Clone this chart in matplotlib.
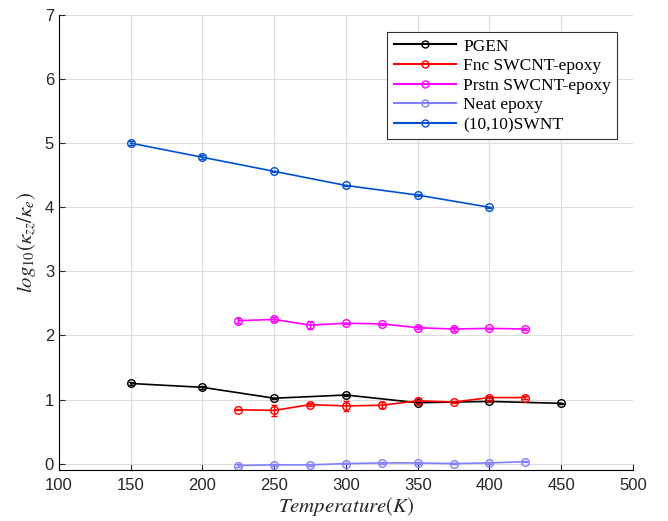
import numpy as np
import matplotlib.pyplot as plt
from matplotlib.lines import Line2D

# data
t_swnt = [150, 200, 250, 300, 350, 400]
swnt = [5.00, 4.78, 4.56, 4.34, 4.19, 4.00]
swnt_err = [0.03, 0.03, 0.01, 0.01, 0.01, 0.01]

t_pgen = [150, 200, 250, 300, 350, 400, 450]
pgen = [1.25, 1.19, 1.02, 1.07, 0.95, 0.97, 0.94]
pgen_err = [0.02, 0.02, 0.01, 0.02, 0.02, 0.01, 0.01]

t_cmp = [225, 250, 275, 300, 325, 350, 375, 400, 425]
fnc = [0.84, 0.83, 0.92, 0.90, 0.91, 0.98, 0.96, 1.03, 1.03]
fnc_err = [0.01, 0.08, 0.02, 0.08, 0.05, 0.04, 0.02, 0.03, 0.02]
prstn = [2.23, 2.25, 2.16, 2.19, 2.18, 2.12, 2.10, 2.11, 2.10]
prstn_err = [0.04, 0.03, 0.06, 0.01, 0.01, 0.02, 0.03, 0.01, 0.02]
neat = [-0.03, -0.02, -0.02, 0.00, 0.01, 0.01, 0.00, 0.01, 0.03]
neat_err = [0.02, 0.02, 0.02, 0.01, 0.01, 0.02, 0.01, 0.01, 0.01]

plt.rcParams['mathtext.fontset'] = 'stix'
plt.rcParams['font.family'] = 'Liberation Sans'

fig = plt.figure(figsize=(6.68, 5.21), dpi=100)
ax = fig.add_axes([0.0883, 0.0979, 0.8593, 0.8733])

series = [
    (t_pgen, pgen, pgen_err, 'black', 'PGEN'),
    (t_cmp, fnc, fnc_err, 'red', 'Fnc SWCNT-epoxy'),
    (t_cmp, prstn, prstn_err, 'magenta', 'Prstn SWCNT-epoxy'),
    (t_cmp, neat, neat_err, '#8080ff', 'Neat epoxy'),
    (t_swnt, swnt, swnt_err, '#0050d0', '(10,10)SWNT'),
]
handles = []
for x, y, e, c, name in series:
    ax.errorbar(x, y, yerr=e, color=c, marker='o', markersize=5.5,
                markerfacecolor='none', markeredgewidth=1.0, linewidth=1.2,
                capsize=2.5, elinewidth=1.0)
    handles.append(Line2D([], [], color=c, marker='o', markersize=5,
                          markerfacecolor='none', linewidth=1.5, label=name))

ax.set_xlim(100, 500)
ax.set_ylim(-0.1, 7)
ax.set_xticks(np.arange(100, 501, 50))
ax.set_yticks(np.arange(0, 8, 1))
ax.grid(True, color='#dcdcdc', linewidth=0.8)
ax.set_axisbelow(True)
for s in ['top', 'right']:
    ax.spines[s].set_visible(False)
ax.tick_params(direction='in', labelsize=12, colors='#262626', length=4)
ax.tick_params(axis='x', pad=6)

ax.set_xlabel(r'$Temperature(K)$', fontsize=15, color='#262626', labelpad=1)
ax.set_ylabel(r'$log_{10}(\kappa_{zz}/\kappa_e)$', fontsize=15, color='#262626', labelpad=4)

leg = ax.legend(handles=handles, loc='upper right', bbox_to_anchor=(0.972, 0.962),
                borderaxespad=0,
                prop={'family': 'Liberation Serif', 'size': 12.5},
                fancybox=False, edgecolor='#333333', framealpha=1,
                handlelength=3.6, borderpad=0.35, labelspacing=0.2,
                handletextpad=0.4)
leg.get_frame().set_linewidth(0.8)

fig.savefig('out.png', dpi=100)
